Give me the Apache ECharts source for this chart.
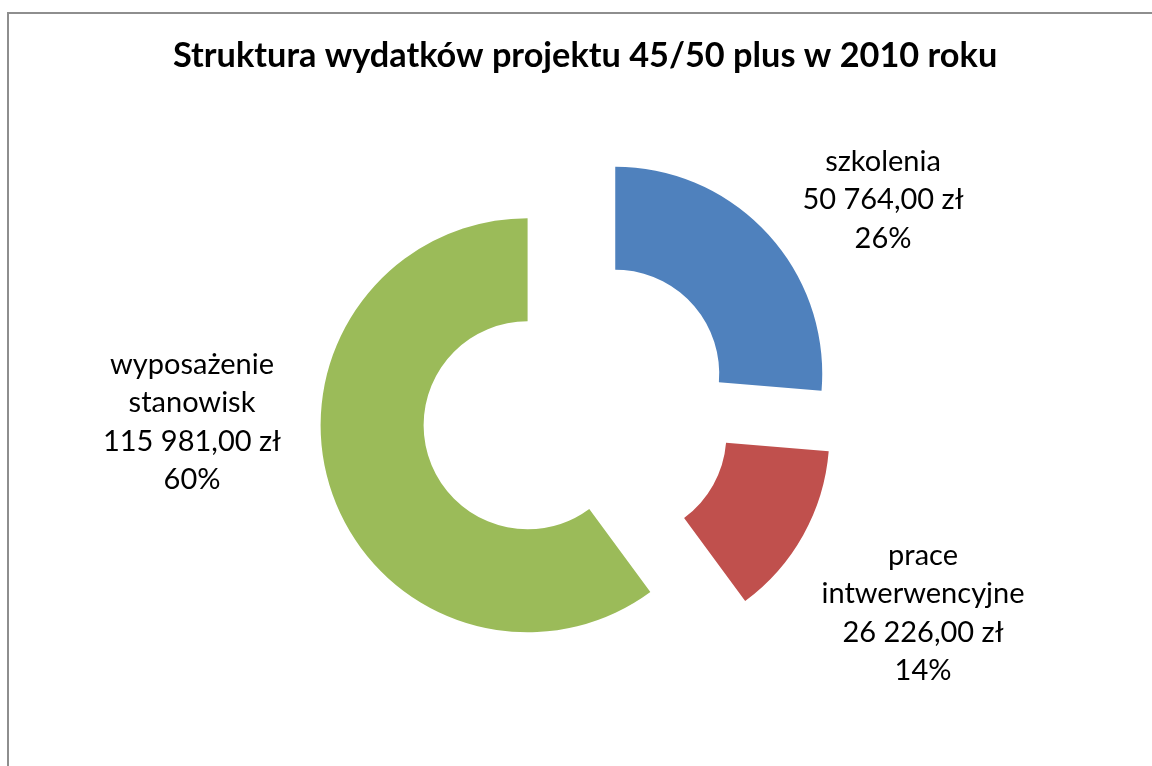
<!DOCTYPE html>
<html>
<head>
<meta charset="utf-8">
<script src="https://cdn.jsdelivr.net/npm/echarts@6/dist/echarts.min.js"></script>
<style>
  html, body { margin: 0; padding: 0; background: #fff; }
  #chart { width: 1152px; height: 766px; }
</style>
</head>
<body>
<div id="chart"></div>
<script>
// Chart data
const categories = ['szkolenia', 'prace\nintwerwencyjne', 'wyposażenie\nstanowisk'];
const amounts = [50764, 26226, 115981];
const colors = ['#4F81BD', '#C0504D', '#9BBB59'];

// where Excel put each data label (label centre)
const labelSpots = [[883, 200], [923, 613], [192, 422]];

const total = amounts.reduce((a, b) => a + b, 0);

const fmtZl = (v) => {
  const s = Math.round(v).toString().replace(/\B(?=(\d{3})+(?!\d))/g, ' ');
  return s + ',00 zł';
};

const chart = echarts.init(document.getElementById('chart'));

// data labels, one text block per slice
const labelTexts = categories.map((name, i) => ({
  type: 'text',
  x: labelSpots[i][0],
  y: labelSpots[i][1],
  silent: true,
  style: {
    text: `${name}\n${fmtZl(amounts[i])}\n${Math.round((amounts[i] / total) * 100)}%`,
    align: 'center',
    verticalAlign: 'middle',
    fontFamily: 'Lato',
    fontSize: 29,
    lineHeight: 38.5,
    fill: '#000',
  },
}));

chart.setOption({
  animation: false,
  title: {
    text: 'Struktura wydatków projektu 45/50 plus w 2010 roku',
    left: 168,
    top: 34,
    textStyle: {
      fontFamily: 'Lato',
      fontSize: 34.3,
      fontWeight: 'bold',
      color: '#000',
    },
  },
  graphic: [
    {
      type: 'rect',
      shape: { x: 8, y: 13, width: 1200, height: 800 },
      style: { fill: 'none', stroke: '#8e8e8e', lineWidth: 2 },
      silent: true,
    },
    ...labelTexts,
  ],
  series: [
    {
      type: 'pie',
      center: [577, 409],
      radius: [104, 207],
      startAngle: 90,
      clockwise: true,
      selectedMode: 'multiple',
      selectedOffset: 52,
      emphasis: { disabled: true },
      itemStyle: { borderWidth: 0 },
      label: { show: false },
      labelLine: { show: false },
      data: categories.map((name, i) => ({
        name,
        value: amounts[i],
        selected: true,
        itemStyle: { color: colors[i] },
        select: { itemStyle: { color: colors[i] } },
      })),
    },
  ],
});
</script>
</body>
</html>
